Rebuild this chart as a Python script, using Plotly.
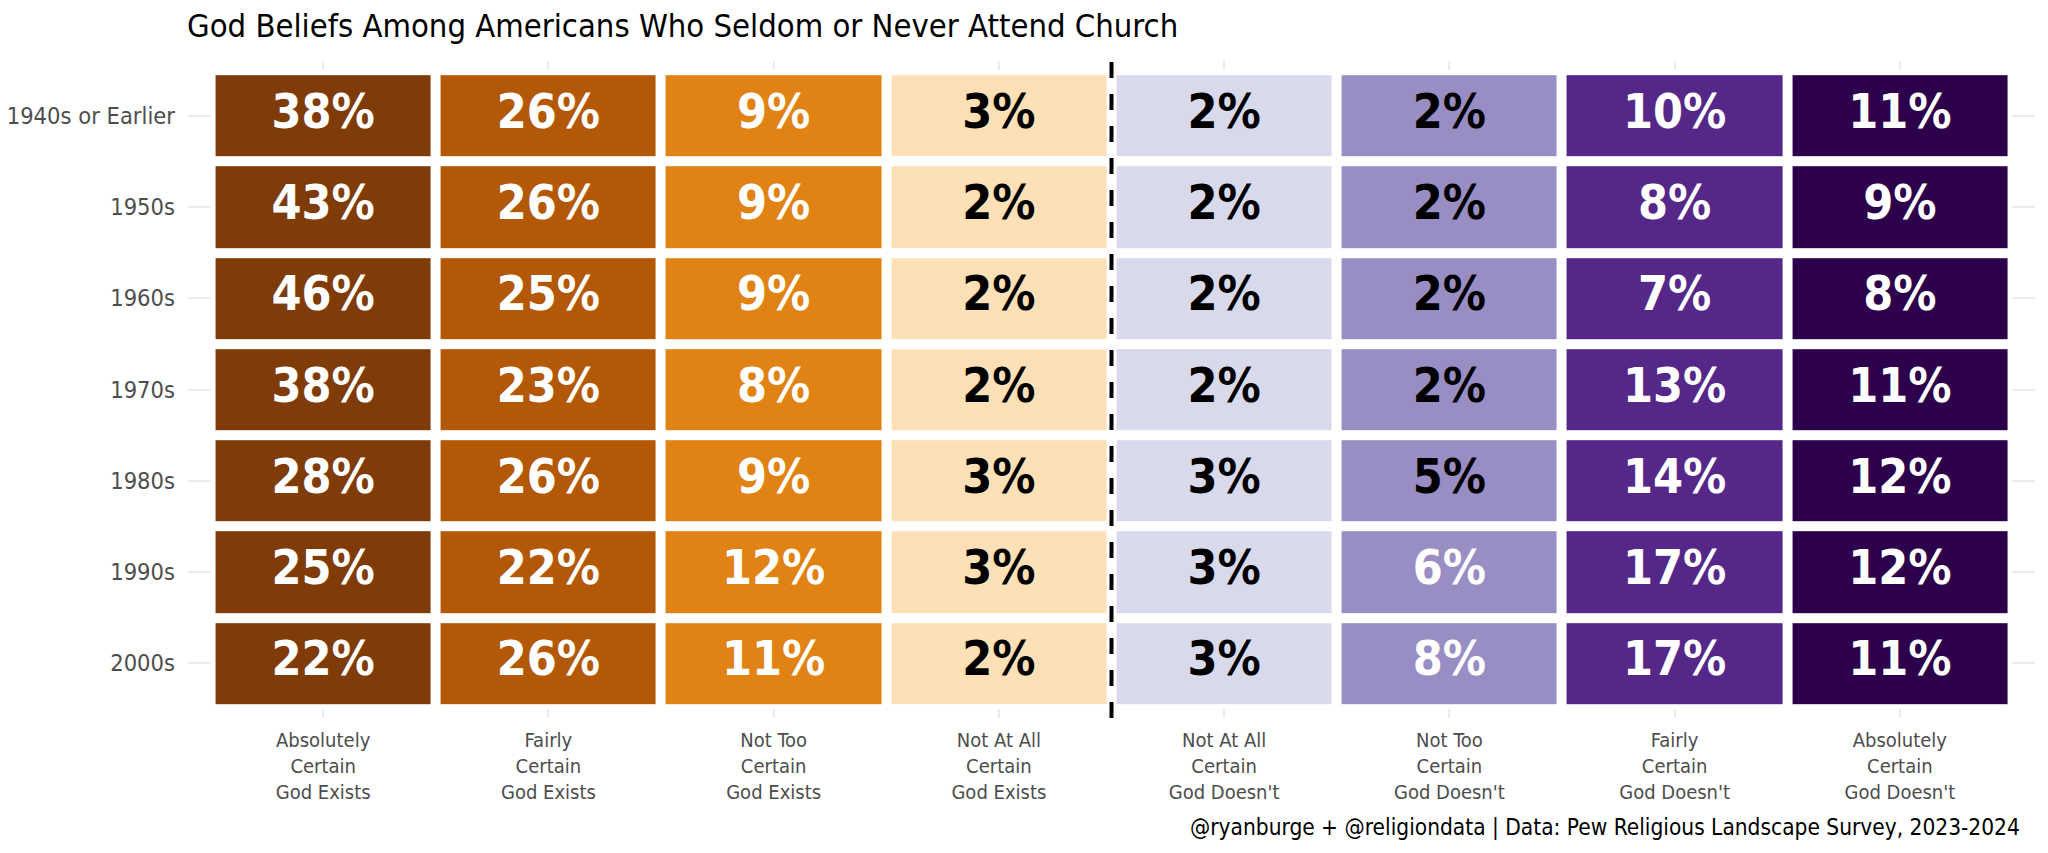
import plotly.graph_objects as go

decades = ['1940s or Earlier', '1950s', '1960s', '1970s', '1980s', '1990s', '2000s']
beliefs = ['Absolutely<br>Certain<br>God Exists', 'Fairly<br>Certain<br>God Exists',
           'Not Too<br>Certain<br>God Exists', 'Not At All<br>Certain<br>God Exists',
           'Not At All<br>Certain<br>God Doesn\'t', 'Not Too<br>Certain<br>God Doesn\'t',
           'Fairly<br>Certain<br>God Doesn\'t', 'Absolutely<br>Certain<br>God Doesn\'t']

# percent by decade (rows) and belief (columns)
pct_1940s = [38, 26, 9, 3, 2, 2, 10, 11]
pct_1950s = [43, 26, 9, 2, 2, 2, 8, 9]
pct_1960s = [46, 25, 9, 2, 2, 2, 7, 8]
pct_1970s = [38, 23, 8, 2, 2, 2, 13, 11]
pct_1980s = [28, 26, 9, 3, 3, 5, 14, 12]
pct_1990s = [25, 22, 12, 3, 3, 6, 17, 12]
pct_2000s = [22, 26, 11, 2, 3, 8, 17, 11]
values = [pct_1940s, pct_1950s, pct_1960s, pct_1970s, pct_1980s, pct_1990s, pct_2000s]

colors = ['#7F3B08', '#B35806', '#E08214', '#FDE0B6', '#D8DAEB', '#998EC3', '#542788', '#2D004B']

FONT = 'DejaVu Sans Condensed, Liberation Sans Narrow, sans-serif'

n = len(beliefs)
col_idx = [[j for j in range(n)] for _ in decades]
colorscale = [[j / (n - 1), c] for j, c in enumerate(colors)]

# page body has an 8px margin, so the figure is a bit smaller than the window
W, H = 2040, 845

fig = go.Figure()

# white layer so gridlines only show outside the tiles
fig.add_trace(go.Heatmap(x=beliefs, y=decades, z=[[0] * n for _ in decades],
                         colorscale=[[0, 'white'], [1, 'white']], showscale=False,
                         hoverinfo='skip'))

fig.add_trace(go.Heatmap(x=beliefs, y=decades, z=col_idx, colorscale=colorscale,
                         zmin=0, zmax=n - 1, showscale=False, xgap=10, ygap=10,
                         customdata=values, hovertemplate='%{customdata}%<extra></extra>'))

tx, ty, tt, tc = [], [], [], []
for i, d in enumerate(decades):
    for j, b in enumerate(beliefs):
        v = values[i][j]
        tx.append(b)
        ty.append(d)
        tt.append(f'{v}%')
        tc.append('white' if v > 5 else 'black')

fig.add_trace(go.Scatter(x=tx, y=ty, text=tt, mode='text', hoverinfo='skip',
                         textfont=dict(family=FONT, size=48, color=tc, weight='bold'),
                         showlegend=False))

fig.add_vline(x=(n - 1) / 2, line=dict(color='black', width=4, dash='16px,16px'))

fig.update_layout(
    width=W, height=H,
    margin=dict(l=180, r=13, t=53, b=135),
    plot_bgcolor='white', paper_bgcolor='white',
    showlegend=False,
    font=dict(family=FONT),
    title=dict(text='God Beliefs Among Americans Who Seldom or Never Attend Church',
               x=179 / W, xanchor='left', xref='container',
               y=1 - 18 / H, yanchor='middle', yref='container',
               font=dict(family=FONT, size=32.5, color='black')),
    annotations=[dict(text='@ryanburge + @religiondata | Data: Pew Religious Landscape Survey, 2023-2024',
                      xref='paper', yref='paper', x=0.993, y=-0.166,
                      xanchor='right', yanchor='middle', showarrow=False,
                      font=dict(family=FONT, size=22.5, color='black'))],
)

fig.update_xaxes(range=[-0.6, n - 0.4], showgrid=True, gridcolor='#EBEBEB', gridwidth=2,
                 zeroline=False, showline=False, ticks='', automargin=False,
                 ticklabelstandoff=8,
                 tickfont=dict(family=FONT, size=20, color='#4D4D4D'))
fig.update_yaxes(range=[len(decades) - 0.4, -0.6], showgrid=True, gridcolor='#EBEBEB',
                 gridwidth=2, zeroline=False, showline=False, ticks='', automargin=False,
                 ticklabelstandoff=12,
                 tickfont=dict(family=FONT, size=23.5, color='#4D4D4D'))

fig.write_html('out.html')
